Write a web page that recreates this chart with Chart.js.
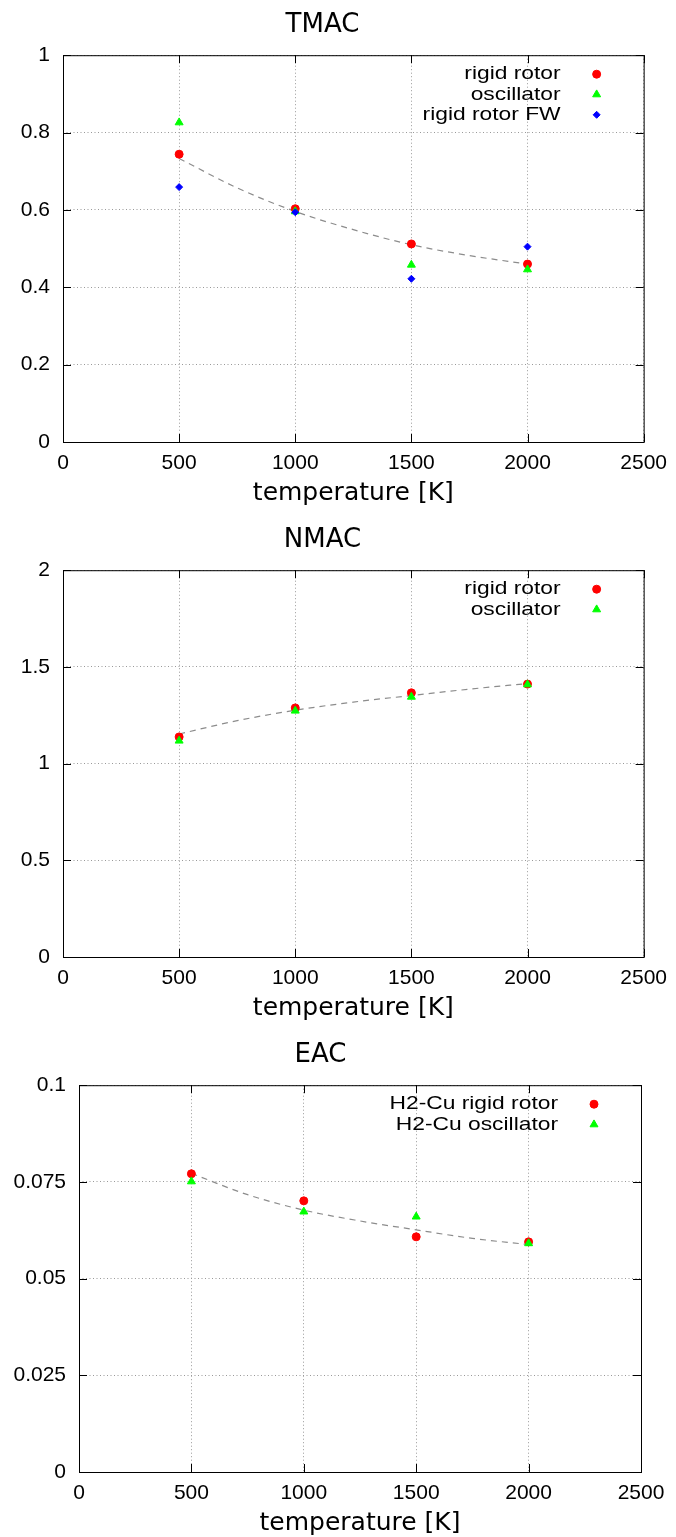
<!DOCTYPE html>
<html>
<head>
<meta charset="utf-8">
<script src="https://cdn.jsdelivr.net/npm/chart.js@4.4.1/dist/chart.umd.min.js"></script>
<style>
  html, body { margin: 0; padding: 0; background: #fff; overflow: hidden; }
  body { width: 676px; height: 1537px; position: relative; }
  .panel { position: absolute; left: 0; width: 676px; height: 515px; }
</style>
</head>
<body>
<div class="panel" style="top:-7px"><canvas id="tmac" width="676" height="515"></canvas></div>
<div class="panel" style="top:508px"><canvas id="nmac" width="676" height="515"></canvas></div>
<div class="panel" style="top:1023px"><canvas id="eac" width="676" height="515"></canvas></div>
<script>
// values
const temperatures = [500, 1000, 1500, 2000];
const fitTemperatures = [500, 750, 1000, 1250, 1500, 1750, 2000];

const tmacRigid = [0.744, 0.603, 0.512, 0.460];
const tmacOsc = [0.826, 0.596, 0.458, 0.446];
const tmacRigidFW = [0.659, 0.594, 0.422, 0.505];
const tmacFit = [0.733, 0.657, 0.596, 0.549, 0.510, 0.482, 0.460];

const nmacRigid = [1.138, 1.288, 1.366, 1.411];
const nmacOsc = [1.118, 1.273, 1.345, 1.409];
const nmacFit = [1.153, 1.222, 1.276, 1.318, 1.352, 1.385, 1.414];

const eacRigid = [0.0771, 0.0701, 0.0608, 0.0595];
const eacOsc = [0.0751, 0.0673, 0.0660, 0.0591];
const eacFit = [0.0772, 0.0717, 0.0677, 0.0649, 0.0626, 0.0604, 0.0588];

// axis ticks
const xTicks = [0, 500, 1000, 1500, 2000, 2500];
const xTickLabels = ['0', '500', '1000', '1500', '2000', '2500'];
const tmacYTicks = [0, 0.2, 0.4, 0.6, 0.8, 1];
const tmacYLabels = ['0', '0.2', '0.4', '0.6', '0.8', '1'];
const nmacYTicks = [0, 0.5, 1, 1.5, 2];
const nmacYLabels = ['0', '0.5', '1', '1.5', '2'];
const eacYTicks = [0, 0.025, 0.05, 0.075, 0.1];
const eacYLabels = ['0', '0.025', '0.05', '0.075', '0.1'];

const RED = '#ff0000', GREEN = '#00ff00', BLUE = '#0000ff';

function pts(xs, ys) {
  return xs.map((x, i) => ({ x: x, y: ys[i] }));
}

function points(label, xs, ys, color, style, radius, order) {
  return {
    label: label,
    data: pts(xs, ys),
    pointStyle: style,
    pointRadius: radius,
    pointBorderWidth: 1,
    backgroundColor: color,
    borderColor: color,
    showLine: false,
    order: order
  };
}

function fitLine(ys) {
  return {
    data: pts(fitTemperatures, ys),
    showLine: true,
    pointRadius: 0,
    borderColor: '#8c8c8c',
    borderWidth: 1.2,
    borderDash: [6, 5],
    cubicInterpolationMode: 'monotone',
    fill: false,
    order: 9
  };
}

function marker(ctx, style, r, x, y, color) {
  ctx.save();
  ctx.fillStyle = color;
  ctx.strokeStyle = color;
  ctx.lineWidth = 1;
  ctx.beginPath();
  if (style === 'circle') {
    ctx.arc(x, y, r, 0, Math.PI * 2);
  } else if (style === 'triangle') {
    for (let k = 0; k < 3; k++) {
      const a = k * Math.PI * 2 / 3;
      const px = x + Math.sin(a) * r, py = y - Math.cos(a) * r;
      if (k === 0) ctx.moveTo(px, py); else ctx.lineTo(px, py);
    }
  } else {
    ctx.moveTo(x - r, y); ctx.lineTo(x, y - r); ctx.lineTo(x + r, y); ctx.lineTo(x, y + r);
  }
  ctx.closePath();
  ctx.fill();
  ctx.stroke();
  ctx.restore();
}

// gnuplot style box with inward tics
const framePlugin = {
  id: 'frame',
  beforeDatasetsDraw(chart) {
    const { ctx, chartArea: { left, top, right, bottom }, scales: { x, y } } = chart;
    ctx.save();
    ctx.strokeStyle = '#000';
    ctx.lineWidth = 1;
    ctx.strokeRect(left + 0.5, top + 0.5, right - left, bottom - top);
    ctx.beginPath();
    x.ticks.forEach(t => {
      const px = Math.round(x.getPixelForValue(t.value)) + 0.5;
      ctx.moveTo(px, bottom); ctx.lineTo(px, bottom - 8);
      ctx.moveTo(px, top); ctx.lineTo(px, top + 8);
    });
    y.ticks.forEach(t => {
      const py = Math.round(y.getPixelForValue(t.value)) + 0.5;
      ctx.moveTo(left, py); ctx.lineTo(left + 8, py);
      ctx.moveTo(right, py); ctx.lineTo(right - 8, py);
    });
    ctx.stroke();
    ctx.restore();
  }
};

// key in the top right corner, text left of the symbol
const keyPlugin = {
  id: 'key',
  afterDraw(chart) {
    const { ctx, chartArea: { top, right } } = chart;
    const items = chart.data.datasets.filter(d => d.label);
    items.forEach((d, i) => {
      const yy = top + 19 + i * 20.3;
      ctx.save();
      ctx.translate(right - 83, yy);
      ctx.scale(1.2, 1);
      ctx.font = '19px "Liberation Sans", Arial, sans-serif';
      ctx.fillStyle = '#000';
      ctx.textAlign = 'right';
      ctx.textBaseline = 'middle';
      ctx.fillText(d.label, 0, 0);
      ctx.restore();
      marker(ctx, d.pointStyle, d.pointRadius, right - 47, yy, d.backgroundColor);
    });
  }
};

function makeChart(id, title, yMax, yTicks, yLabels, yWidth, rightPad, datasets) {
  return new Chart(document.getElementById(id), {
    type: 'scatter',
    data: { datasets: datasets },
    plugins: [framePlugin, keyPlugin],
    options: {
      responsive: false,
      animation: false,
      devicePixelRatio: 1,
      layout: { padding: { left: 0, right: rightPad, top: 0, bottom: 0 } },
      plugins: {
        legend: { display: false },
        tooltip: { enabled: false },
        title: {
          display: true,
          text: title,
          color: '#000',
          font: { family: 'DejaVu Sans', size: 26, weight: 'normal', lineHeight: 1.2 },
          padding: { top: 17, bottom: 14 }
        }
      },
      scales: {
        x: {
          type: 'linear',
          min: 0,
          max: 2500,
          afterBuildTicks: s => { s.ticks = xTicks.map(v => ({ value: v })); },
          afterFit: s => { s.height = 66; },
          grid: { color: '#999', lineWidth: 1, drawTicks: false },
          border: { display: false, dash: [1, 2.5] },
          ticks: {
            color: '#000',
            font: { family: 'Liberation Sans', size: 21 },
            padding: 9,
            maxRotation: 0,
            autoSkip: false,
            callback: (v, i) => xTickLabels[i]
          },
          title: {
            display: true,
            text: 'temperature [K]',
            color: '#000',
            font: { family: 'DejaVu Sans', size: 25, lineHeight: 1.2 },
            padding: 0
          }
        },
        y: {
          type: 'linear',
          min: 0,
          max: yMax,
          afterBuildTicks: s => { s.ticks = yTicks.map(v => ({ value: v })); },
          afterFit: s => { s.width = yWidth; },
          grid: { color: '#999', lineWidth: 1, drawTicks: false },
          border: { display: false, dash: [1, 2.5] },
          ticks: {
            color: '#000',
            font: { family: 'Liberation Sans', size: 21 },
            padding: 13,
            autoSkip: false,
            callback: (v, i) => yLabels[i]
          }
        }
      }
    }
  });
}

makeChart('tmac', 'TMAC', 1, tmacYTicks, tmacYLabels, 63, 31, [
  points('rigid rotor', temperatures, tmacRigid, RED, 'circle', 4, 3),
  points('oscillator', temperatures, tmacOsc, GREEN, 'triangle', 4.6, 2),
  points('rigid rotor FW', temperatures, tmacRigidFW, BLUE, 'rectRot', 3.5, 1),
  fitLine(tmacFit)
]);

makeChart('nmac', 'NMAC', 2, nmacYTicks, nmacYLabels, 63, 31, [
  points('rigid rotor', temperatures, nmacRigid, RED, 'circle', 4, 3),
  points('oscillator', temperatures, nmacOsc, GREEN, 'triangle', 4.6, 2),
  fitLine(nmacFit)
]);

makeChart('eac', 'EAC', 0.1, eacYTicks, eacYLabels, 79, 35, [
  points('H2-Cu rigid rotor', temperatures, eacRigid, RED, 'circle', 4, 3),
  points('H2-Cu oscillator', temperatures, eacOsc, GREEN, 'triangle', 4.6, 2),
  fitLine(eacFit)
]);
</script>
</body>
</html>
